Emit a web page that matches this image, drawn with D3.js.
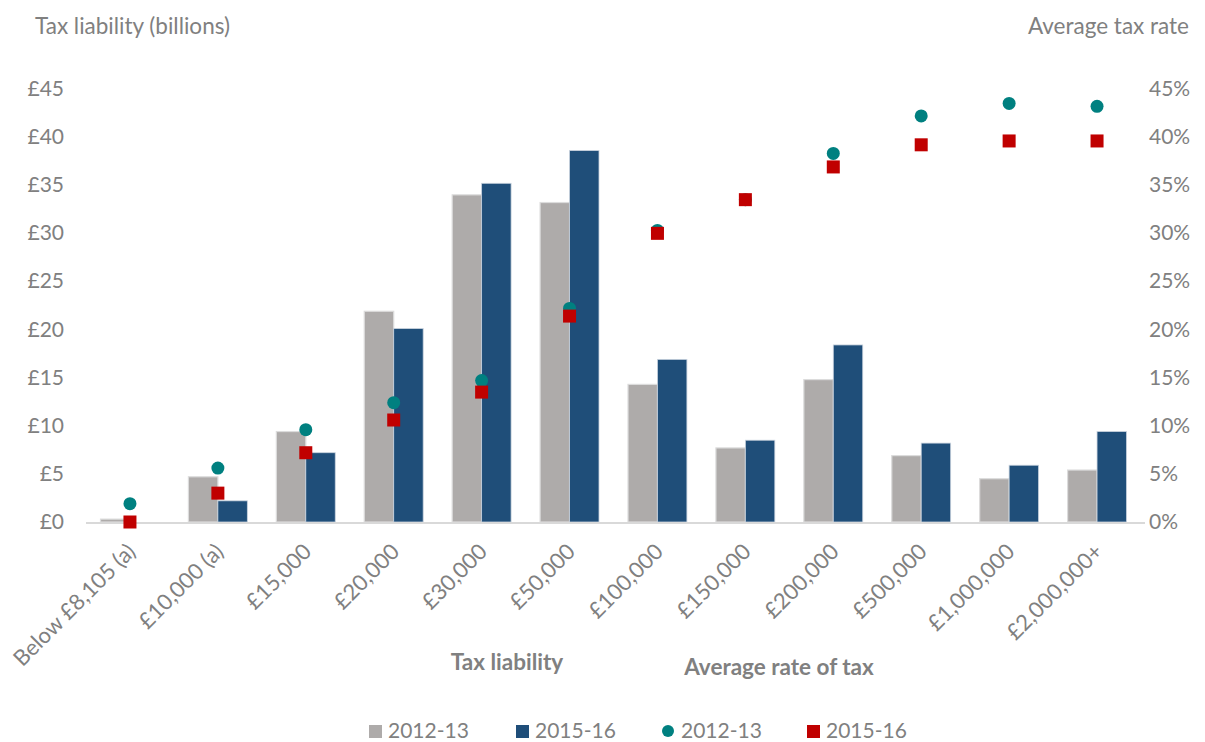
<!DOCTYPE html>
<html>
<head>
<meta charset="utf-8">
<script src="https://cdn.jsdelivr.net/npm/d3@7"></script>
<style>
  body { margin: 0; background: #fff; }
  text { font-family: Lato, "Open Sans", sans-serif; fill: #808080; }
</style>
</head>
<body>
<svg id="chart" width="1205" height="742"></svg>
<script>
// income bands
var categories = ["Below £8,105 (a)", "£10,000 (a)", "£15,000", "£20,000", "£30,000", "£50,000",
                  "£100,000", "£150,000", "£200,000", "£500,000", "£1,000,000", "£2,000,000+"];
// tax liability, £ billions
var liability2012 = [0.3, 4.7, 9.4, 21.9, 34.0, 33.2, 14.3, 7.7, 14.8, 6.9, 4.5, 5.4];
var liability2015 = [0.0, 2.2, 7.2, 20.1, 35.2, 38.6, 16.9, 8.5, 18.4, 8.2, 5.9, 9.4];
// average tax rate, %
var rate2012 = [1.9, 5.6, 9.6, 12.4, 14.7, 22.2, 30.3, 33.5, 38.3, 42.2, 43.5, 43.2];
var rate2015 = [0.0, 3.0, 7.2, 10.6, 13.5, 21.4, 30.0, 33.5, 36.9, 39.2, 39.6, 39.6];
var leftTicks = [0, 5, 10, 15, 20, 25, 30, 35, 40, 45];

var colors = { g12: "#AEABAA", b15: "#1F4E79", t12: "#008080", r15: "#C00000" };

var svg = d3.select("#chart");
var plotLeft = 86, plotRight = 1141, plotTop = 89, plotBottom = 522;

var x0 = d3.scaleBand().domain(categories).range([plotLeft, plotRight]).paddingInner(0.33).paddingOuter(0.165);
var x1 = d3.scaleBand().domain(["a", "b"]).range([0, x0.bandwidth()]);
var y = d3.scaleLinear().domain([0, 45]).range([plotBottom, plotTop]);
var yr = d3.scaleLinear().domain([0, 45]).range([plotBottom, plotTop]);

// axis labels
svg.selectAll(".ltick").data(leftTicks).enter().append("text")
   .attr("x", 64).attr("y", function (d) { return y(d) + 7; })
   .attr("text-anchor", "end").style("font-size", "21px")
   .text(function (d) { return "£" + d; });

svg.selectAll(".rtick").data(leftTicks).enter().append("text")
   .attr("x", 1149).attr("y", function (d) { return yr(d) + 7; })
   .style("font-size", "21px")
   .text(function (d) { return d + "%"; });

svg.append("text").attr("x", 35).attr("y", 34).style("font-size", "22.5px").text("Tax liability (billions)");
svg.append("text").attr("x", 1189).attr("y", 34).attr("text-anchor", "end").style("font-size", "22.5px").text("Average tax rate");

// bars
var rows = categories.map(function (c, i) { return { c: c, a: liability2012[i], b: liability2015[i], ra: rate2012[i], rb: rate2015[i] }; });

var grp = svg.selectAll(".grp").data(rows).enter().append("g")
             .attr("transform", function (d) { return "translate(" + x0(d.c) + ",0)"; });

grp.append("rect")
   .attr("x", x1("a")).attr("width", x1.bandwidth())
   .attr("y", function (d) { return y(d.a); })
   .attr("height", function (d) { return plotBottom - y(d.a); })
   .attr("fill", colors.g12).attr("stroke", "#dcdcdc").attr("stroke-width", 1.2);

grp.filter(function (d) { return d.b > 0; }).append("rect")
   .attr("x", x1("b")).attr("width", x1.bandwidth())
   .attr("y", function (d) { return y(d.b); })
   .attr("height", function (d) { return plotBottom - y(d.b); })
   .attr("fill", colors.b15).attr("stroke", "#c9d3de").attr("stroke-width", 0.8);

// baseline
svg.append("line").attr("x1", plotLeft).attr("x2", plotRight + 4).attr("y1", plotBottom + 1).attr("y2", plotBottom + 1)
   .attr("stroke", "#d9d9d9").attr("stroke-width", 2);

// rate markers
var cx = function (d) { return x0(d.c) + x0.bandwidth() / 2; };
svg.selectAll(".dot").data(rows).enter().append("circle")
   .attr("cx", cx).attr("cy", function (d) { return yr(d.ra); })
   .attr("r", 6.5).attr("fill", colors.t12);

svg.selectAll(".sq").data(rows).enter().append("rect")
   .attr("x", function (d) { return cx(d) - 6.5; }).attr("y", function (d) { return yr(d.rb) - 6.5; })
   .attr("width", 13).attr("height", 13).attr("fill", colors.r15);

// category labels
svg.selectAll(".xl").data(categories).enter().append("text")
   .attr("text-anchor", "end").style("font-size", "22px")
   .attr("transform", function (d) { return "translate(" + (x0(d) + x0.bandwidth() / 2 + 7) + ",553) rotate(-45)"; })
   .text(function (d) { return d; });

svg.append("text").attr("x", 507).attr("y", 670).attr("text-anchor", "middle")
   .style("font-size", "22.5px").style("font-weight", "bold").text("Tax liability");
svg.append("text").attr("x", 779).attr("y", 675).attr("text-anchor", "middle")
   .style("font-size", "22.5px").style("font-weight", "bold").text("Average rate of tax");

// legend
var legend = [
  { x: 369, shape: "sq", col: colors.g12, label: "2012-13" },
  { x: 516, shape: "sq", col: colors.b15, label: "2015-16" },
  { x: 662, shape: "c", col: colors.t12, label: "2012-13" },
  { x: 807, shape: "sq", col: colors.r15, label: "2015-16" }
];
var lg = svg.selectAll(".lg").data(legend).enter().append("g")
            .attr("transform", function (d) { return "translate(" + d.x + ",731)"; });
lg.filter(function (d) { return d.shape == "sq"; }).append("rect")
  .attr("x", 0).attr("y", -6).attr("width", 13).attr("height", 13).attr("fill", function (d) { return d.col; });
lg.filter(function (d) { return d.shape == "c"; }).append("circle")
  .attr("cx", 6).attr("cy", 0).attr("r", 6).attr("fill", function (d) { return d.col; });
lg.append("text").attr("x", function (d) { return d.shape == "c" ? 19 : 19; })
  .attr("y", 7).style("font-size", "21px").text(function (d) { return d.label; });
</script>
</body>
</html>
